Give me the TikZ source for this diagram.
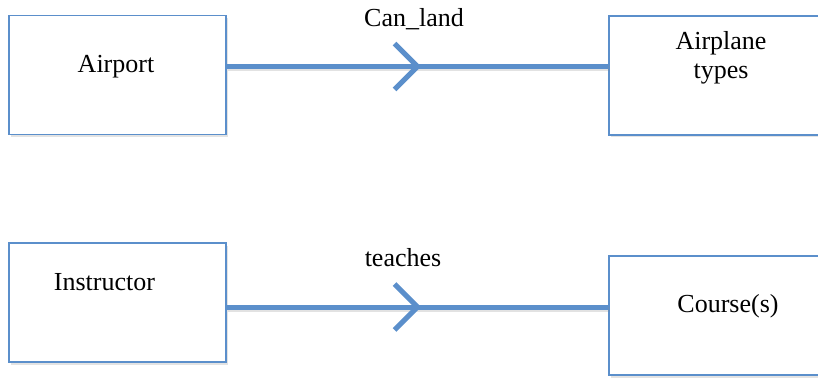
\documentclass[tikz,border=0pt]{standalone}
\usepackage{fontspec}
\setmainfont{Liberation Serif}
\usetikzlibrary{decorations.markings,shadows}
\definecolor{eblue}{HTML}{5B8FCB}
\definecolor{eshade}{HTML}{8A8A8A}

\begin{document}
\begin{tikzpicture}[x=1pt, y=1pt, line join=miter,
  font=\fontsize{26}{28.5}\selectfont,
  entity/.style={draw=eblue, line width=1.6pt, fill=white, inner sep=0pt,
    minimum width=217pt, minimum height=119pt,
    drop shadow={opacity=0.22, shadow xshift=1.5pt, shadow yshift=-2.5pt}},
  txt/.style={inner sep=0pt, align=center},
  chevron/.style={eblue, line width=5pt,
    preaction={draw=eshade, opacity=0.25, line width=5pt,
      transform canvas={shift={(1pt,-2.5pt)}}},
    postaction={decorate, decoration={markings, mark=at position 0.5 with
      {\draw[eblue, line width=5pt] (-23,23) -- (0,0) -- (-23,-23);}}}}]
  \useasboundingbox (0,0) rectangle (818,378);
  \clip (0,0) rectangle (818,378);

  % ---------- Airport -- Can_land --> Airplane types ----------
  \node[entity] (airport) at (117.5,303) {};
  \node[entity] (planes) at (717.5,302.5) {};
  \node[txt] (airportname) at (116,311.5) {Airport};
  \node[txt] (planesname) at (721,320) {Airplane\\types};
  \draw[chevron] ([yshift=8.5pt]airport.east)
    -- ([yshift=8.5pt]airport.east -| planes.west) coordinate[pos=0.5] (landmid);
  \node[txt] (canland) at ([xshift=-3.5pt, yshift=47pt]landmid) {Can\_land};

  % ---------- Instructor -- teaches --> Course(s) ----------
  \node[entity] (instructor) at (117.5,75.5) {};
  \node[entity] (course) at (717.5,62.5) {};
  \node[txt] (instructorname) at (104.5,96) {Instructor};
  \node[txt] (coursename) at (728,71.5) {Course(s)};
  \draw[chevron] ([yshift=-4.5pt]instructor.east)
    -- ([yshift=-4.5pt]instructor.east -| course.west) coordinate[pos=0.5] (teachmid);
  \node[txt] (teaches) at ([xshift=-14.5pt, yshift=49.5pt]teachmid) {teaches};
\end{tikzpicture}
\end{document}
